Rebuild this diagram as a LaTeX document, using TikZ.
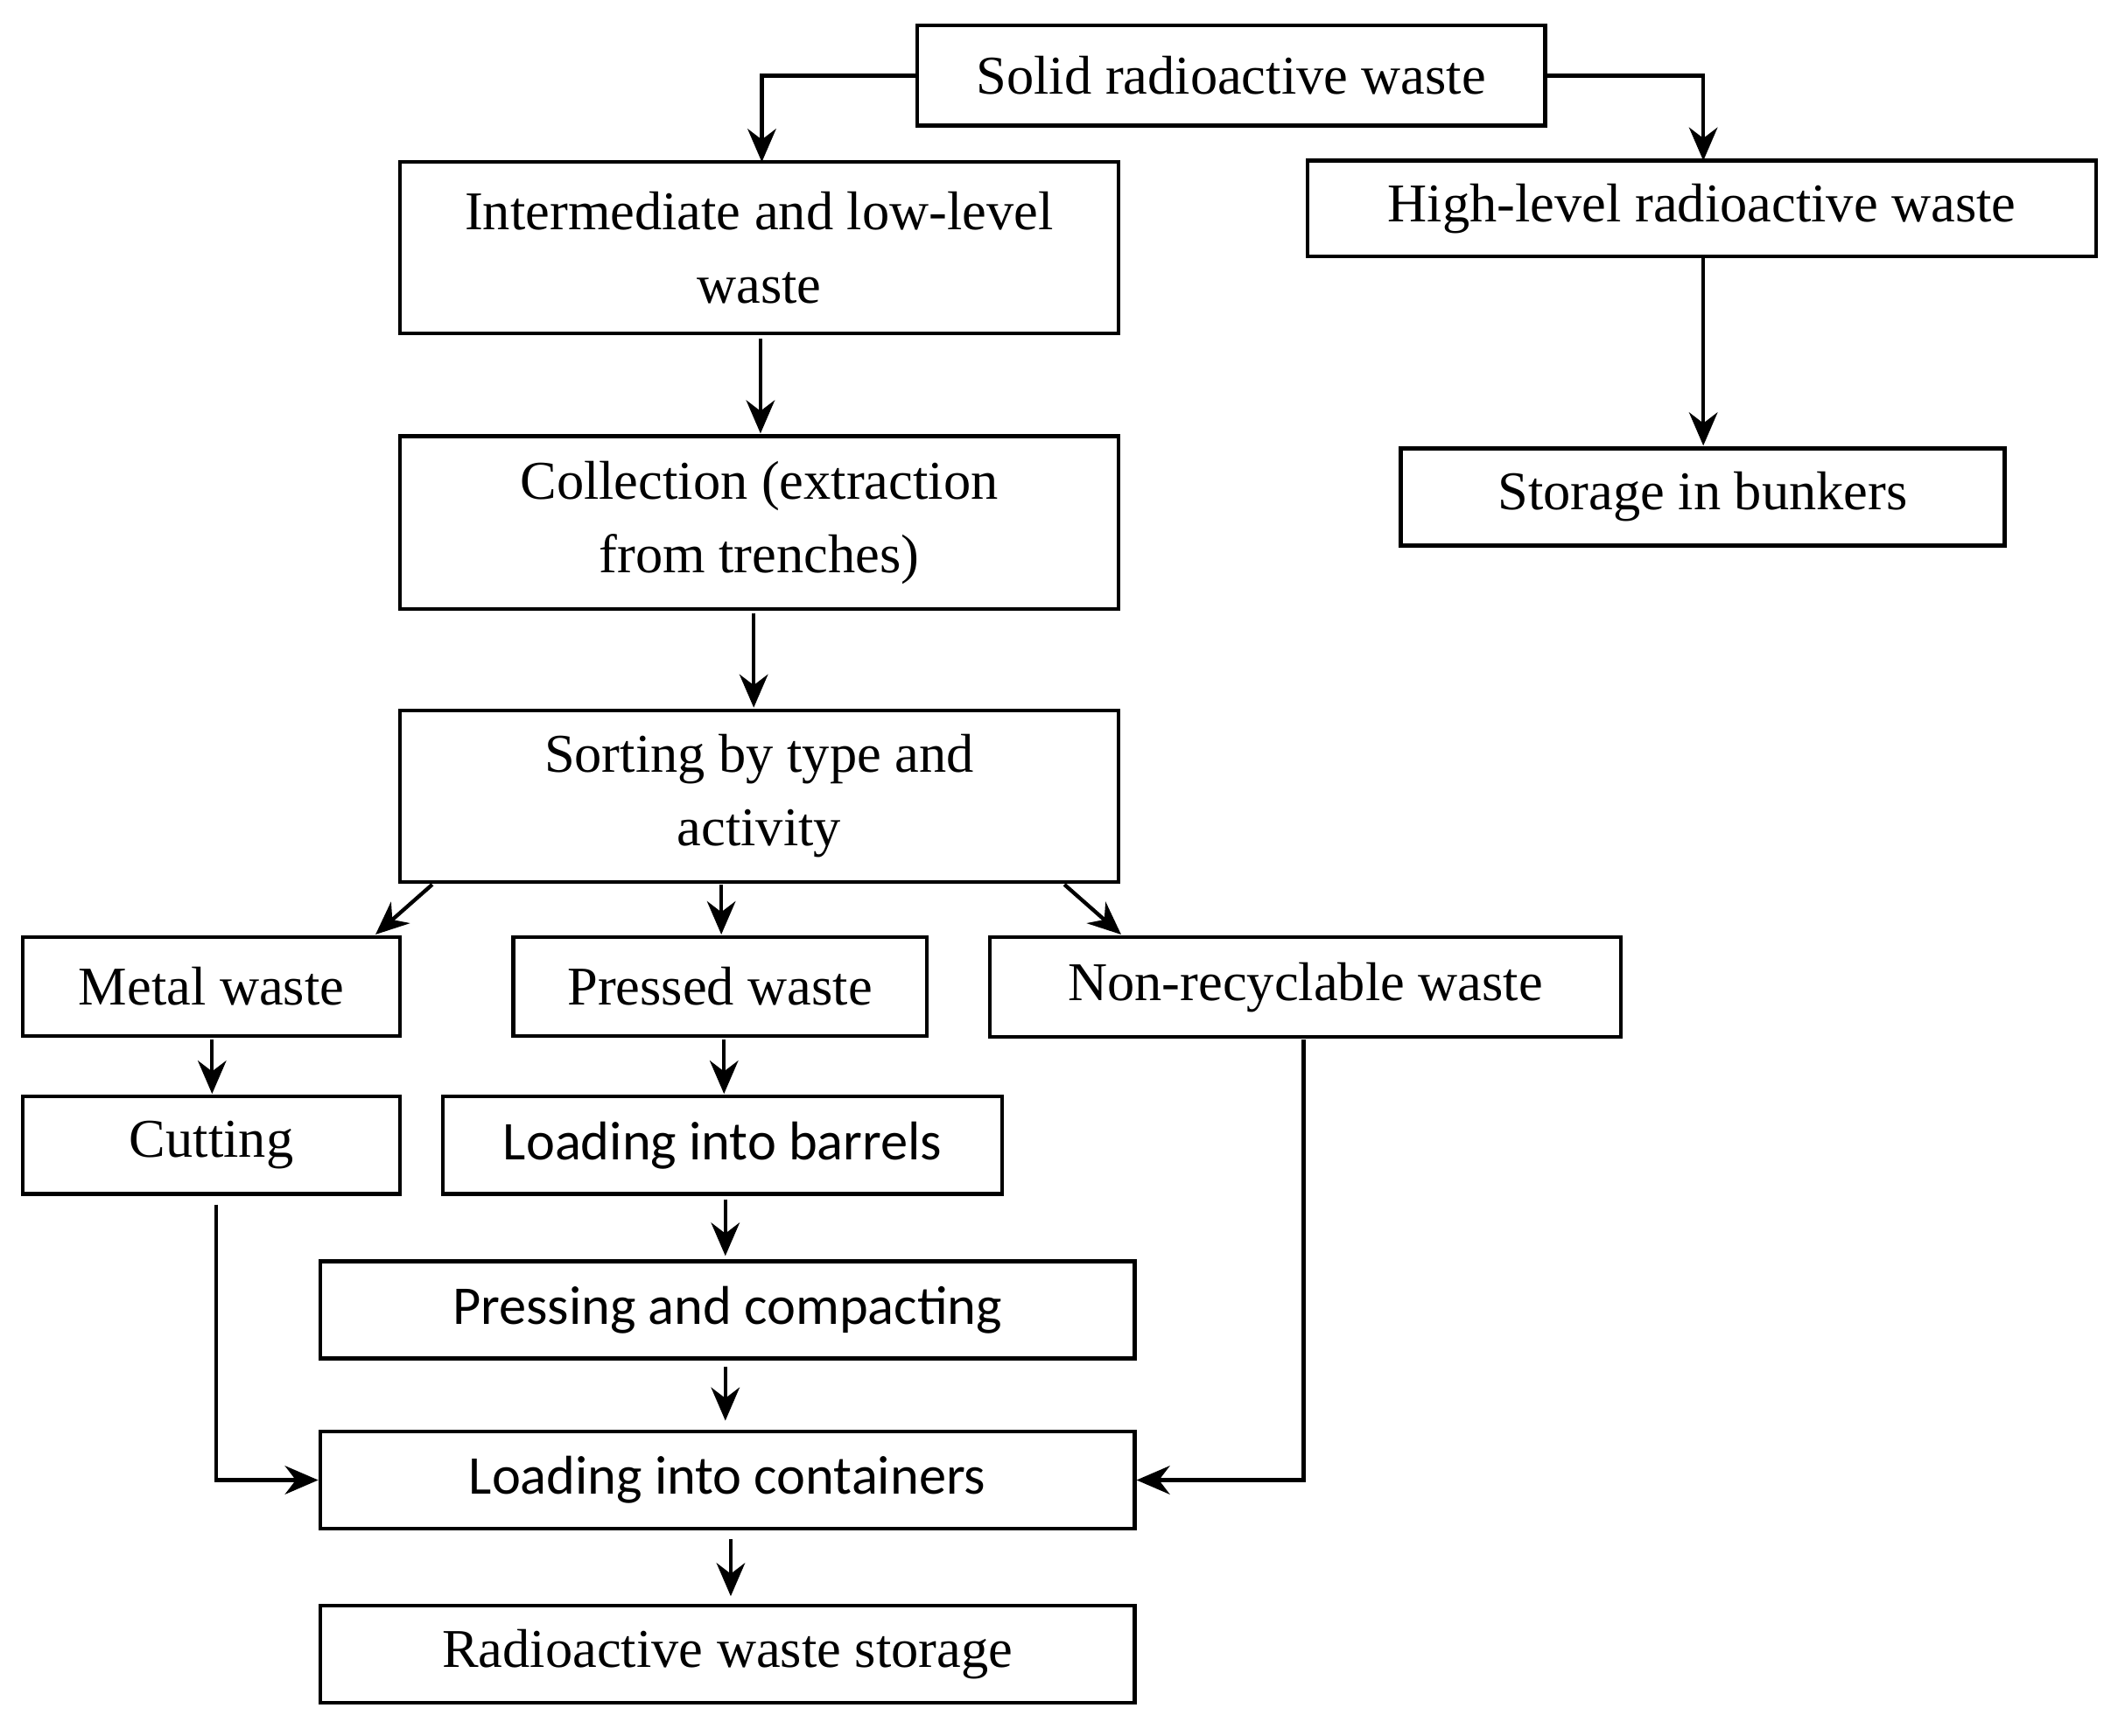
\documentclass[tikz,border=0pt]{standalone}
\usepackage{fontspec}
\setmainfont{Liberation Serif}
\newfontfamily\sansf{Carlito}
\usetikzlibrary{arrows.meta}
\begin{document}
\begin{tikzpicture}[x=0.01cm,y=-0.01cm,
  bx/.style={draw,line width=0.8pt,inner sep=0pt,align=center,font=\fontsize{11.5}{15.5}\selectfont},
  sb/.style={bx,font=\sansf\fontsize{11.5}{15.5}\selectfont},
  ar/.style={line width=0.8pt,-{Stealth[length=7pt,width=6pt]}}]
\useasboundingbox (0,0) rectangle (1568,1285);
\newcommand\bx[7][bx]{\node[#1,minimum width=#4*0.01cm-#2*0.01cm,minimum height=#5*0.01cm-#3*0.01cm] (#6) at ({(#2+#4)/2},{(#3+#5)/2}) {#7};}
\bx{679}{19}{1144}{93}{solid}{Solid radioactive waste}
\bx{296}{120}{828}{247}{inter}{Intermediate and low-level\\waste}
\bx{968}{119}{1552}{190}{high}{High-level radioactive waste}
\bx{1037}{332}{1484}{404}{bunk}{Storage in bunkers}
\bx{296}{323}{828}{451}{coll}{Collection (extraction\\from trenches)}
\bx{296}{526}{828}{653}{sort}{Sorting by type and\\activity}
\bx{17}{694}{296}{767}{metal}{Metal waste}
\bx{380}{694}{686}{767}{press}{Pressed waste}
\bx{733}{694}{1200}{768}{nonr}{Non-recyclable waste}
\bx{17}{812}{296}{884}{cut}{Cutting}
\bx[sb]{328}{812}{742}{884}{barr}{Loading into barrels}
\bx[sb]{237}{934}{840}{1006}{pcomp}{Pressing and compacting}
\bx[sb]{237}{1060}{840}{1132}{cont}{Loading into containers}
\bx{237}{1189}{840}{1261}{stor}{Radioactive waste storage}
\draw[ar] (solid.west) -| (564,120);
\draw[ar] (solid.east) -| (1261,119);
\draw[ar] (563,251) -- (563,321);
\draw[ar] (558,454) -- (558,524);
\draw[ar] (1261,190) -- (1261,330);
\draw[ar] (320,655) -- (278,692);
\draw[ar] (534,655) -- (534,692);
\draw[ar] (788,655) -- (830,692);
\draw[ar] (157,770) -- (157,810);
\draw[ar] (536,770) -- (536,810);
\draw[ar] (537,888) -- (537,930);
\draw[ar] (537,1012) -- (537,1052);
\draw[ar] (541,1140) -- (541,1182);
\draw[ar] (160,892) |- (cont.west);
\draw[ar] (965,770) |- (cont.east);
\end{tikzpicture}
\end{document}
